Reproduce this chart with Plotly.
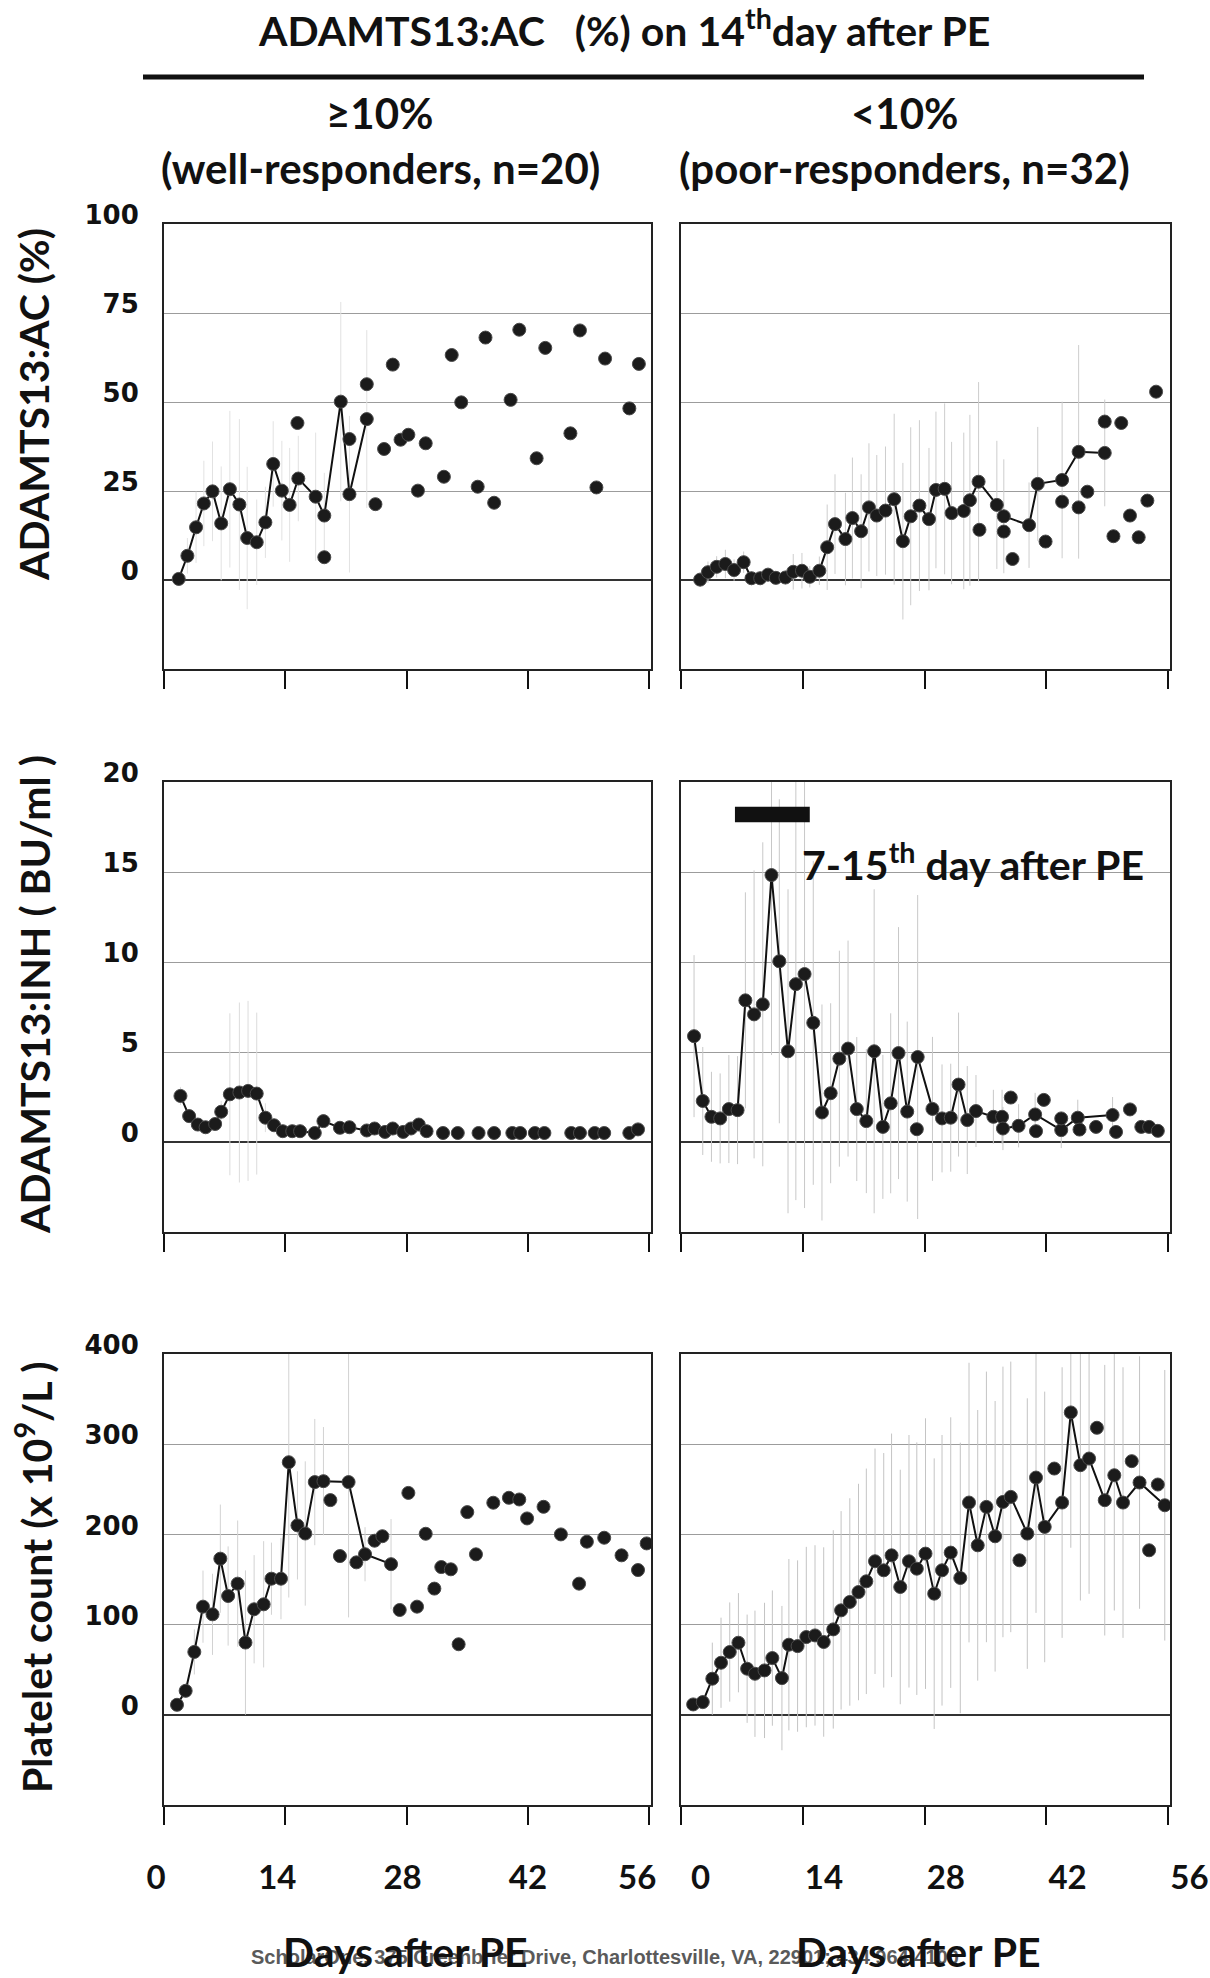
import plotly.graph_objects as go

# ---------------- data ----------------
x_ticks = [0, 14, 28, 42, 56]
nb = "\u00a0"
# tick labels of the left and right bottom panels (small padding reproduces their offsets)
x_tick_text_left = ["0" + nb * 2, "14" + nb * 2, "28" + nb, "42", "56" + nb * 3]
x_tick_text_right = [nb + "0", "14", "28", "42", "56"]
ac_ticks = [0, 25, 50, 75, 100]
inh_ticks = [0, 5, 10, 15, 20]
plt_ticks = [0, 100, 200, 300, 400]

# ADAMTS13:AC, well-responders
ac_well_line_day = [1.7, 2.7, 3.7, 4.6, 5.6, 6.6, 7.6, 8.7, 9.6, 10.7, 11.7, 12.6, 13.6, 14.5, 15.5, 17.5, 18.5, 20.4, 21.4, 23.4]
ac_well_line_val = [0.3, 6.8, 14.8, 21.5, 24.9, 15.9, 25.5, 21.2, 11.8, 10.6, 16.2, 32.6, 25.1, 21.1, 28.5, 23.4, 18.1, 50.1, 24.1, 45.2]
ac_well_line_err = [2, 5, 10, 12, 14, 16, 22, 24, 20, 12, 10, 12, 14, 16, 12, 18, 12, 28, 22, 25]
ac_well_pts_day = [15.4, 18.5, 21.4, 23.4, 24.4, 25.4, 26.4, 27.3, 28.2, 29.3, 30.2, 32.3, 33.2, 34.3, 36.2, 37.1, 38.1,
                   40.0, 41.0, 43.0, 44.0, 46.9, 48.0, 49.9, 50.9, 53.7, 54.8]
ac_well_pts_val = [44.1, 6.4, 39.6, 55.0, 21.3, 36.8, 60.5, 39.4, 40.8, 25.1, 38.4, 29.0, 63.2, 49.9, 26.2, 68.1, 21.7,
                   50.6, 70.3, 34.2, 65.2, 41.2, 70.1, 26.0, 62.2, 48.2, 60.7]

# ADAMTS13:AC, poor-responders
ac_poor_line_day = [2.2, 3.1, 4.1, 5.1, 6.1, 7.2, 8.1, 9.1, 10.0, 10.9, 12.0, 12.9, 13.9, 14.8, 15.9, 16.8, 17.7, 18.9,
                    19.7, 20.7, 21.6, 22.5, 23.5, 24.5, 25.5, 26.4, 27.4, 28.5, 29.3, 30.3, 31.1, 32.5, 33.2, 34.2,
                    36.3, 37.1, 40.0, 41.0, 43.8, 45.7, 48.7]
ac_poor_line_val = [0.1, 2.2, 3.7, 4.5, 2.8, 5.0, 0.5, 0.5, 1.5, 0.6, 0.7, 2.3, 2.6, 0.9, 2.6, 9.2, 15.7, 11.5, 17.4,
                    13.7, 20.4, 18.1, 19.5, 22.7, 10.9, 17.9, 20.9, 17.1, 25.3, 25.6, 18.8, 19.4, 22.4, 27.6, 21.1,
                    17.9, 15.4, 27.0, 28.1, 36.0, 35.7]
ac_poor_line_err = [2, 3, 3, 4, 3, 3, 2, 2, 2, 2, 2, 5, 5, 3, 4, 12, 14, 13, 17, 16, 18, 17, 18, 24, 22, 25, 24, 20,
                    22, 24, 20, 22, 24, 28, 18, 16, 12, 16, 22, 30, 15]
ac_poor_pts_day = [34.3, 37.1, 38.1, 41.9, 43.8, 45.7, 46.7, 48.7, 49.7, 50.6, 51.6, 52.6, 53.6, 54.6]
ac_poor_pts_val = [14.1, 13.6, 5.9, 10.8, 22.0, 20.4, 24.8, 44.5, 12.3, 44.1, 18.1, 12.0, 22.3, 52.9]

# ADAMTS13:INH, well-responders
inh_well_line_day = [1.9, 2.9, 3.9, 4.8, 5.9, 6.6, 7.6, 8.7, 9.7, 10.7, 11.7, 12.7, 13.7, 14.8, 15.7, 17.4, 18.4,
                     20.3, 21.4, 23.4, 24.3, 25.5, 26.4, 27.6, 28.5, 29.4, 30.3]
inh_well_line_val = [2.56, 1.44, 0.97, 0.82, 1.0, 1.68, 2.65, 2.75, 2.84, 2.69, 1.35, 0.93, 0.6, 0.6, 0.6, 0.5, 1.16,
                     0.79, 0.82, 0.64, 0.75, 0.56, 0.75, 0.56, 0.75, 0.97, 0.6]
inh_well_line_err = [0.5, 0.4, 0.3, 0.3, 0.3, 0.6, 4.5, 5, 5, 4.5, 0.8, 0.3, 0.2, 0.2, 0.2, 0.2, 0.3, 0.2, 0.2, 0.2,
                     0.2, 0.2, 0.2, 0.2, 0.2, 0.2, 0.2]
inh_well_pts_day = [32.2, 33.9, 36.3, 38.1, 40.2, 41.1, 42.8, 43.9, 47.0, 48.0, 49.7, 50.8, 53.7, 54.7]
inh_well_pts_val = [0.5, 0.5, 0.5, 0.5, 0.5, 0.5, 0.5, 0.5, 0.5, 0.5, 0.5, 0.5, 0.5, 0.7]

# ADAMTS13:INH, poor-responders
inh_poor_line_day = [1.5, 2.5, 3.5, 4.5, 5.5, 6.5, 7.4, 8.4, 9.4, 10.4, 11.3, 12.3, 13.2, 14.2, 15.2, 16.2, 17.2, 18.2,
                     19.2, 20.2, 21.3, 22.2, 23.2, 24.1, 25.0, 26.0, 27.2, 28.9, 30.0, 31.0, 31.9, 32.9, 33.9, 35.9,
                     36.9, 37.0, 38.8, 40.7, 43.7, 45.6, 49.6]
inh_poor_line_val = [5.88, 2.28, 1.40, 1.31, 1.83, 1.77, 7.87, 7.09, 7.65, 14.83, 10.04, 5.04, 8.77, 9.33, 6.62, 1.64,
                     2.71, 4.63, 5.19, 1.83, 1.16, 5.04, 0.84, 2.15, 4.94, 1.69, 4.72, 1.84, 1.31, 1.35, 3.19, 1.22,
                     1.72, 1.40, 1.40, 0.75, 0.90, 1.53, 0.66, 1.35, 1.50]
inh_poor_line_err = [4.5, 3, 2.5, 2.5, 3, 3, 6, 8, 9, 10, 9, 9, 12, 13, 9, 6, 5, 6, 6, 4, 4, 9, 4, 5, 7, 5, 9, 4, 3,
                     3, 4, 3, 2, 1.5, 1.5, 1.2, 1.2, 1.2, 1, 1, 1]
inh_poor_pts_day = [27.1, 37.9, 40.8, 41.7, 43.7, 45.8, 47.7, 50.0, 51.6, 52.9, 53.8, 54.8]
inh_poor_pts_val = [0.71, 2.47, 0.60, 2.34, 1.31, 0.69, 0.84, 0.56, 1.81, 0.84, 0.84, 0.62]
period_bar_day = [6.2, 14.8]      # "7-15th day after PE" bar
period_bar_level = [17.76, 18.62]

# Platelet count, well-responders
plt_well_line_day = [1.5, 2.5, 3.5, 4.5, 5.6, 6.5, 7.4, 8.5, 9.4, 10.4, 11.5, 12.4, 13.5, 14.4, 15.4, 16.3, 17.4,
                     18.4, 21.3, 23.2, 26.2]
plt_well_line_val = [11.1, 26.6, 69.7, 119.9, 111.4, 173.1, 131.7, 145.4, 80.1, 117.0, 122.5, 150.9, 150.9, 280, 210,
                     201, 258, 259, 258, 178, 167]
plt_well_line_err = [5, 8, 25, 40, 45, 60, 55, 70, 80, 60, 70, 40, 45, 150, 60, 80, 70, 60, 150, 30, 50]
plt_well_pts_day = [19.2, 20.3, 22.2, 24.3, 25.2, 27.2, 28.2, 29.2, 30.2, 31.2, 32.0, 33.1, 34.0, 35.0, 36.0, 38.0,
                    39.8, 41.0, 41.9, 43.8, 45.8, 47.9, 48.8, 50.8, 52.8, 54.7, 55.7]
plt_well_pts_val = [238, 176, 169, 193, 198, 116.2, 246, 119.9, 200.7, 139.9, 163.8, 161.3, 78.2, 224.7, 177.9, 235.1,
                    240.6, 238.7, 217.7, 230.6, 200, 145.4, 191.9, 196.3, 176.8, 160.5, 190]

# Platelet count, poor-responders
plt_poor_line_day = [1.4, 2.5, 3.6, 4.6, 5.6, 6.6, 7.6, 8.5, 9.6, 10.5, 11.6, 12.4, 13.4, 14.4, 15.4, 16.4, 17.5, 18.4,
                     19.4, 20.4, 21.3, 22.3, 23.3, 24.2, 25.2, 26.2, 27.1, 28.1, 29.1, 30.0, 31.0, 32.1, 33.1, 34.1,
                     35.1, 36.1, 37.0, 37.9, 39.8, 40.8, 41.8, 43.8, 44.8, 45.9, 46.9, 48.7, 49.8, 50.8, 52.7, 55.6]
plt_poor_line_val = [11.5, 14.1, 40.0, 57.7, 69.6, 79.9, 51.1, 45.5, 49.2, 62.9, 40.7, 77.7, 76.2, 86.2, 88.0, 80.7,
                     94.7, 115.8, 125.1, 136.1, 148.0, 170.2, 160.2, 176.8, 141.7, 170.2, 162.0, 178.7, 134.3, 160.2,
                     179.8, 151.7, 235.3, 187.9, 230.5, 197.9, 236.0, 241.6, 200.9, 263.0, 208.3, 235.3, 335.2, 276.7,
                     284.1, 237.9, 265.6, 235.3, 257.5, 232.3]
plt_poor_line_err = [5, 8, 40, 50, 55, 55, 60, 70, 75, 75, 80, 95, 95, 100, 100, 105, 110, 110, 115, 120, 125, 125, 130,
                     135, 130, 140, 140, 150, 150, 150, 150, 150, 155, 150, 150, 150, 150, 150, 150, 150, 150, 150,
                     150, 150, 150, 150, 150, 150, 140, 150]
plt_poor_pts_day = [38.9, 42.9, 47.8, 51.8, 53.8, 54.8]
plt_poor_pts_val = [171.3, 273.0, 318.2, 281.2, 182.4, 255.3]

# ---------------- figure ----------------
W, H = 1210, 1978
col_px = [(164, 651), (681, 1170)]
row_px = [(224, 669), (782, 1232), (1354, 1805)]
row_ranges = [[-25, 100], [-5, 20], [-100, 400]]
row_ticks = [ac_ticks, inh_ticks, plt_ticks]
col_ticktext = [x_tick_text_left, x_tick_text_right]
col_labelpos = ["outside", "outside right"]
col_standoff = [24, 42]
err_colors = ["#e2e2e2", "#cdcdcd", "#dcdcdc", "#c8c8c8", "#d2d2d2", "#c4c4c4"]

panels = [
    (ac_well_line_day, ac_well_line_val, ac_well_line_err, ac_well_pts_day, ac_well_pts_val),
    (ac_poor_line_day, ac_poor_line_val, ac_poor_line_err, ac_poor_pts_day, ac_poor_pts_val),
    (inh_well_line_day, inh_well_line_val, inh_well_line_err, inh_well_pts_day, inh_well_pts_val),
    (inh_poor_line_day, inh_poor_line_val, inh_poor_line_err, inh_poor_pts_day, inh_poor_pts_val),
    (plt_well_line_day, plt_well_line_val, plt_well_line_err, plt_well_pts_day, plt_well_pts_val),
    (plt_poor_line_day, plt_poor_line_val, plt_poor_line_err, plt_poor_pts_day, plt_poor_pts_val),
]

fig = go.Figure()
marker_style = dict(size=13, color="#1b1b1b", line=dict(color="#4a4a4a", width=1))
layout_axes = {}
for k, (ld, lv, le, pday, pval) in enumerate(panels):
    idx = k + 1
    r, c = k // 2, k % 2
    xa = "x" if idx == 1 else f"x{idx}"
    ya = "y" if idx == 1 else f"y{idx}"
    fig.add_trace(go.Scatter(
        x=ld, y=lv, mode="lines+markers", xaxis=xa, yaxis=ya, showlegend=False,
        line=dict(color="#111111", width=2), marker=marker_style,
        error_y=dict(type="data", array=le, visible=True, color=err_colors[k], thickness=1, width=0)))
    fig.add_trace(go.Scatter(
        x=pday, y=pval, mode="markers", xaxis=xa, yaxis=ya, showlegend=False, marker=marker_style))

    x0, x1 = col_px[c]
    y0, y1 = row_px[r]
    layout_axes["xaxis" if idx == 1 else f"xaxis{idx}"] = dict(
        domain=[x0 / W, x1 / W], anchor=ya, range=[0, 56.2], automargin=False,
        tickmode="array", tickvals=x_ticks, ticktext=col_ticktext[c],
        ticks="outside", ticklen=18, tickwidth=2, tickcolor="#111111",
        showticklabels=(r == 2), ticklabelstandoff=col_standoff[c], ticklabelposition=col_labelpos[c],
        tickfont=dict(family="Lato", size=33, color="#111111", weight="bold"),
        showline=True, mirror=True, linecolor="#222222", linewidth=2,
        showgrid=False, zeroline=False, fixedrange=True)
    layout_axes["yaxis" if idx == 1 else f"yaxis{idx}"] = dict(
        domain=[1 - y1 / H, 1 - y0 / H], anchor=xa, range=row_ranges[r], automargin=False,
        tickmode="array", tickvals=row_ticks[r], ticks="",
        showticklabels=(c == 0), ticklabelstandoff=18, ticklabelshift=-9,
        tickfont=dict(family="DejaVu Sans", size=26, color="#111111", weight="bold"),
        showline=True, mirror=True, linecolor="#222222", linewidth=2,
        showgrid=True, gridcolor="#9c9c9c", gridwidth=1,
        zeroline=True, zerolinecolor="#333333", zerolinewidth=1.5, fixedrange=True)

fig.update_layout(**layout_axes)

big = dict(family="Lato", size=41, color="#111111", weight="bold")
sub = dict(family="Lato", size=42, color="#111111", weight="bold")
annotations = [
    dict(text=f"ADAMTS13:AC{nb*3}(%) on 14<sup>th</sup>day after PE", x=624 / W, y=1 - 28 / H, font=big),
    dict(text="≥10%", x=380 / W, y=1 - 113 / H, font=sub),
    dict(text="(well-responders, n=20)", x=380 / W, y=1 - 168 / H, font=sub),
    dict(text="<10%", x=905 / W, y=1 - 113 / H, font=sub),
    dict(text="(poor-responders, n=32)", x=905 / W, y=1 - 168 / H, font=sub),
    dict(text="ADAMTS13:AC (%)", x=34 / W, y=1 - 405 / H, textangle=-90, font=big),
    dict(text="ADAMTS13:INH ( BU/ml )", x=34 / W, y=1 - 995 / H, textangle=-90, font=big),
    dict(text="Platelet count (x 10<sup>9</sup>/L )", x=34 / W, y=1 - 1578 / H, textangle=-90, font=big),
    dict(text="7-15<sup>th</sup> day after PE", x=973 / W, y=1 - 862 / H, font=big),
    dict(text="ScholarOne, 375 Greenbrier Drive, Charlottesville, VA, 22901; 434 964 4100",
         x=605 / W, y=1 - 1957 / H, font=dict(family="Liberation Sans", size=20, color="#5a5a5a", weight="bold")),
    dict(text="Days after PE", x=405 / W, y=0.0, yanchor="bottom", font=big),
    dict(text="Days after PE", x=918 / W, y=0.0, yanchor="bottom", font=big),
]
for a in annotations:
    a.setdefault("yanchor", "middle")
    a.update(xref="paper", yref="paper", showarrow=False, xanchor="center")
fig.update_layout(annotations=annotations)

fig.add_shape(type="line", xref="paper", yref="paper", x0=143 / W, x1=1144 / W, y0=1 - 77 / H, y1=1 - 77 / H,
              line=dict(color="#111111", width=5))
fig.add_shape(type="rect", xref="x4", yref="y4", x0=period_bar_day[0], x1=period_bar_day[1],
              y0=period_bar_level[0], y1=period_bar_level[1], fillcolor="#111111", line=dict(width=0))

fig.update_layout(width=W, height=H, margin=dict(l=0, r=0, t=0, b=0, pad=0), autosize=False,
                  paper_bgcolor="white", plot_bgcolor="white")
fig.write_html("out.html", config={"displayModeBar": False},
               post_script="document.body.style.margin='0px';document.body.style.overflow='hidden';")
